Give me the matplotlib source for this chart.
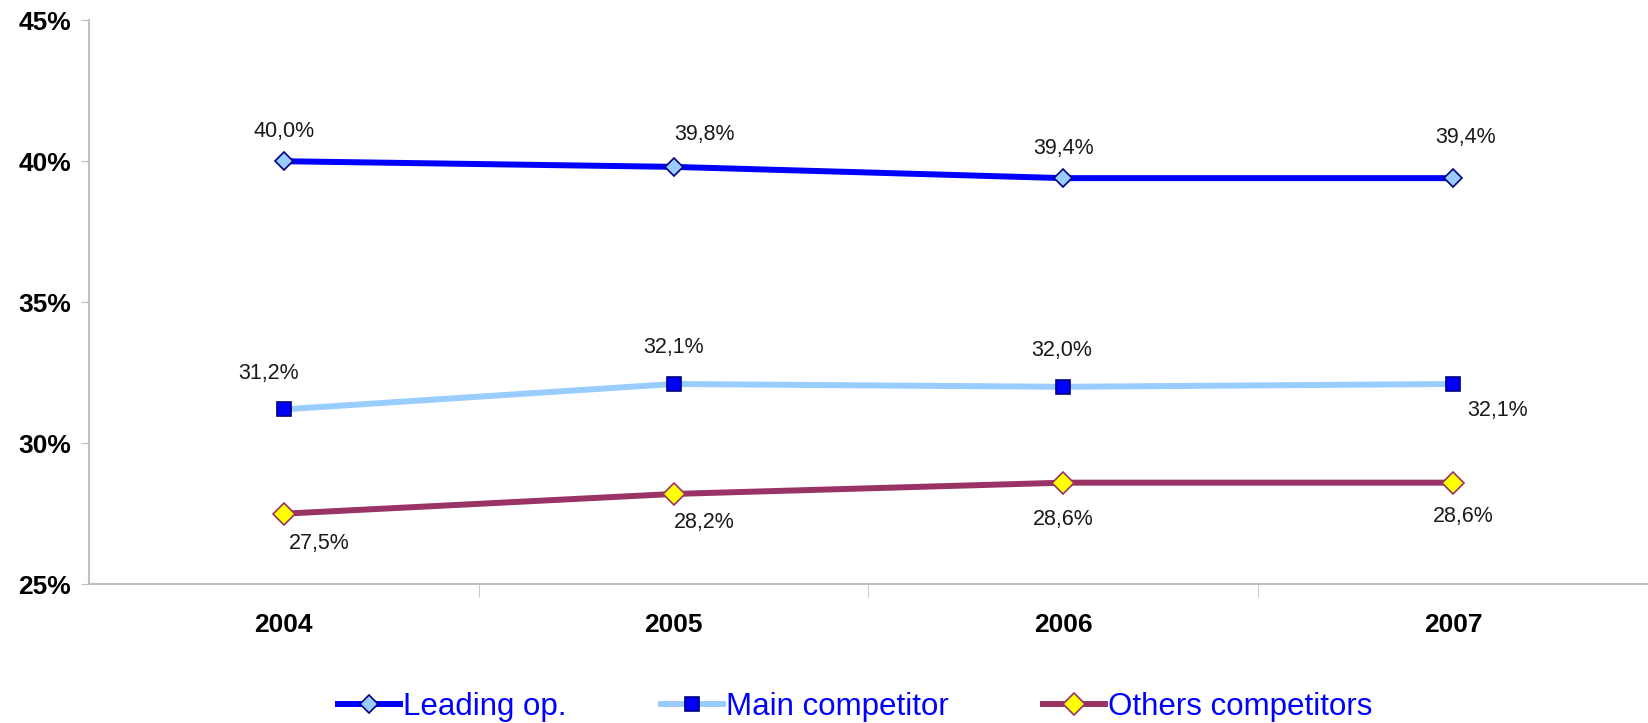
#!/usr/bin/env python3
import numpy as np
import matplotlib.pyplot as plt
from matplotlib.ticker import FixedLocator

# datos del grafico
years = ['2004', '2005', '2006', '2007']
leading = [40.0, 39.8, 39.4, 39.4]
main_comp = [31.2, 32.1, 32.0, 32.1]
others = [27.5, 28.2, 28.6, 28.6]
y_ticks = [25, 30, 35, 40, 45]

# desplazamiento de las etiquetas (en pixeles)
off_leading = [(0, 30), (31, 32), (0, 30), (12, 41)]
off_main = [(-15, 36), (0, 36), (-2, 36), (44, -27)]
off_others = [(35, -30), (31, -29), (0, -37), (10, -34)]


def etiqueta(v):
    return f"{v:.1f}%".replace('.', ',')


def main():
    plt.rcParams['font.family'] = ['Liberation Sans', 'DejaVu Sans']

    fig = plt.figure(figsize=(16.48, 7.23), dpi=100)
    ax = fig.add_axes([0.054, 0.192, 0.946, 0.780])
    x = np.arange(len(years))

    ax.plot(x, leading, color='#0000FF', lw=4.3, marker='D', ms=9,
            mfc='#99CCFF', mec='#000080', mew=1.2, label='Leading op.', zorder=3)
    ax.plot(x, main_comp, color='#99CCFF', lw=4.3, marker='s', ms=10,
            mfc='#0000FF', mec='#000080', mew=1.2, label='Main competitor', zorder=3)
    ax.plot(x, others, color='#993366', lw=4.3, marker='D', ms=11,
            mfc='#FFFF00', mec='#993366', mew=1.2, label='Others competitors', zorder=3)

    for serie, offs in [(leading, off_leading), (main_comp, off_main), (others, off_others)]:
        for xi, v, o in zip(x, serie, offs):
            ax.annotate(etiqueta(v), (xi, v), xytext=o, textcoords='offset pixels',
                        ha='center', va='center', fontsize=15.5, color='#1a1a1a')

    ax.set_xlim(-0.5, 3.5)
    ax.set_ylim(25, 45)
    ax.set_yticks(y_ticks)
    ax.set_yticklabels([f"{t}%" for t in y_ticks], fontsize=19, fontweight='bold')
    ax.set_xticks(x)
    ax.set_xticklabels(years, fontsize=19, fontweight='bold')
    ax.xaxis.set_minor_locator(FixedLocator([0.5, 1.5, 2.5]))
    ax.tick_params(axis='x', which='major', length=0, pad=21)
    ax.tick_params(axis='x', which='minor', length=9, color='#C0C0C0', direction='out')
    ax.tick_params(axis='y', length=6, color='#C0C0C0', pad=7)

    for s in ['top', 'right']:
        ax.spines[s].set_visible(False)
    for s in ['left', 'bottom']:
        ax.spines[s].set_color('#C0C0C0')
        ax.spines[s].set_linewidth(1.5)

    leg = fig.legend(loc='center', bbox_to_anchor=(0.519, 0.022), ncol=3, frameon=False,
                     fontsize=22.5, handlelength=2.0, handletextpad=0.1, columnspacing=3.0)
    for t in leg.get_texts():
        t.set_color('#0000FF')

    fig.savefig('out.png', dpi=100)


if __name__ == "__main__":
    main()
